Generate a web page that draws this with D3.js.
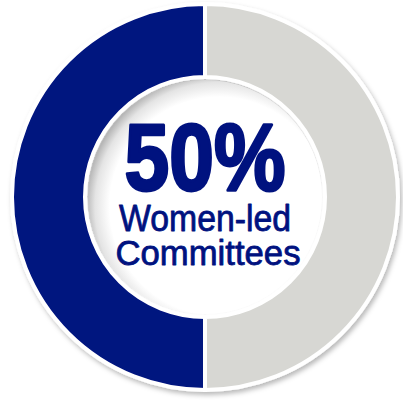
<!DOCTYPE html>
<html>
<head>
<meta charset="utf-8">
<script src="https://cdn.jsdelivr.net/npm/d3@7"></script>
<style>
  html, body { margin: 0; padding: 0; background: #ffffff; }
  svg { display: block; }
</style>
</head>
<body>
<svg id="chart" width="403" height="400"></svg>
<script>
// Committee leadership split
const categories = ["Women-led", "Other"];
const values = [50, 50];
const colors = ["#00127f", "#d7d7d3"];
const headline = "50%";
const captionLines = ["Women-led", "Committees"];

const W = 403, H = 400;
const cx = 205, cy = 197;
const outerR = 193, innerR = 120;

const svg = d3.select("#chart");
const defs = svg.append("defs");

// soft drop shadow behind the ring
const shadow = defs.append("filter").attr("id", "ringShadow")
  .attr("x", "-10%").attr("y", "-10%").attr("width", "120%").attr("height", "120%");
shadow.append("feDropShadow")
  .attr("dx", 2).attr("dy", 3).attr("stdDeviation", 2.5)
  .attr("flood-color", "#000").attr("flood-opacity", 0.28);

// hollow centre with a faint inner shade along its rim
const hole = defs.append("radialGradient").attr("id", "holeShade")
  .attr("cx", "56%").attr("cy", "54%").attr("r", "57%");
hole.append("stop").attr("offset", "82%").attr("stop-color", "#ffffff");
hole.append("stop").attr("offset", "93%").attr("stop-color", "#e4e4e4");
hole.append("stop").attr("offset", "100%").attr("stop-color", "#b4b4b4");

const color = d3.scaleOrdinal().domain(categories).range(colors);

const pie = d3.pie()
  .sort(null)
  .value(d => d.value)
  .startAngle(-Math.PI)
  .endAngle(Math.PI);

const arc = d3.arc().innerRadius(innerR).outerRadius(outerR);

const data = categories.map((c, i) => ({ category: c, value: values[i] }));

const g = svg.append("g").attr("transform", `translate(${cx},${cy})`);

g.append("g").attr("filter", "url(#ringShadow)")
  .selectAll("path")
  .data(pie(data))
  .join("path")
  .attr("d", arc)
  .attr("fill", d => color(d.data.category))
  .attr("stroke", "#ffffff")
  .attr("stroke-width", 4)
  .attr("stroke-linejoin", "miter");

g.append("circle")
  .attr("r", innerR - 3)
  .attr("fill", "url(#holeShade)");

const txt = g.append("g")
  .attr("font-family", "'Liberation Sans', Arial, Helvetica, sans-serif")
  .attr("fill", "#00127f")
  .attr("stroke", "#00127f")
  .attr("stroke-linejoin", "round")
  .attr("text-anchor", "middle");

// big figure, heavy weight
txt.append("text")
  .attr("x", 205 - cx).attr("y", 190 - cy)
  .attr("font-size", 95)
  .attr("font-weight", "bold")
  .attr("stroke-width", 3)
  .attr("textLength", 161)
  .attr("lengthAdjust", "spacingAndGlyphs")
  .text(headline);

txt.append("text")
  .attr("x", 205 - cx).attr("y", 231 - cy)
  .attr("font-size", 36)
  .attr("stroke-width", 0.8)
  .attr("textLength", 172)
  .attr("lengthAdjust", "spacingAndGlyphs")
  .text(captionLines[0]);

txt.append("text")
  .attr("x", 208 - cx).attr("y", 265 - cy)
  .attr("font-size", 35)
  .attr("stroke-width", 0.8)
  .attr("textLength", 185)
  .attr("lengthAdjust", "spacingAndGlyphs")
  .text(captionLines[1]);
</script>
</body>
</html>
